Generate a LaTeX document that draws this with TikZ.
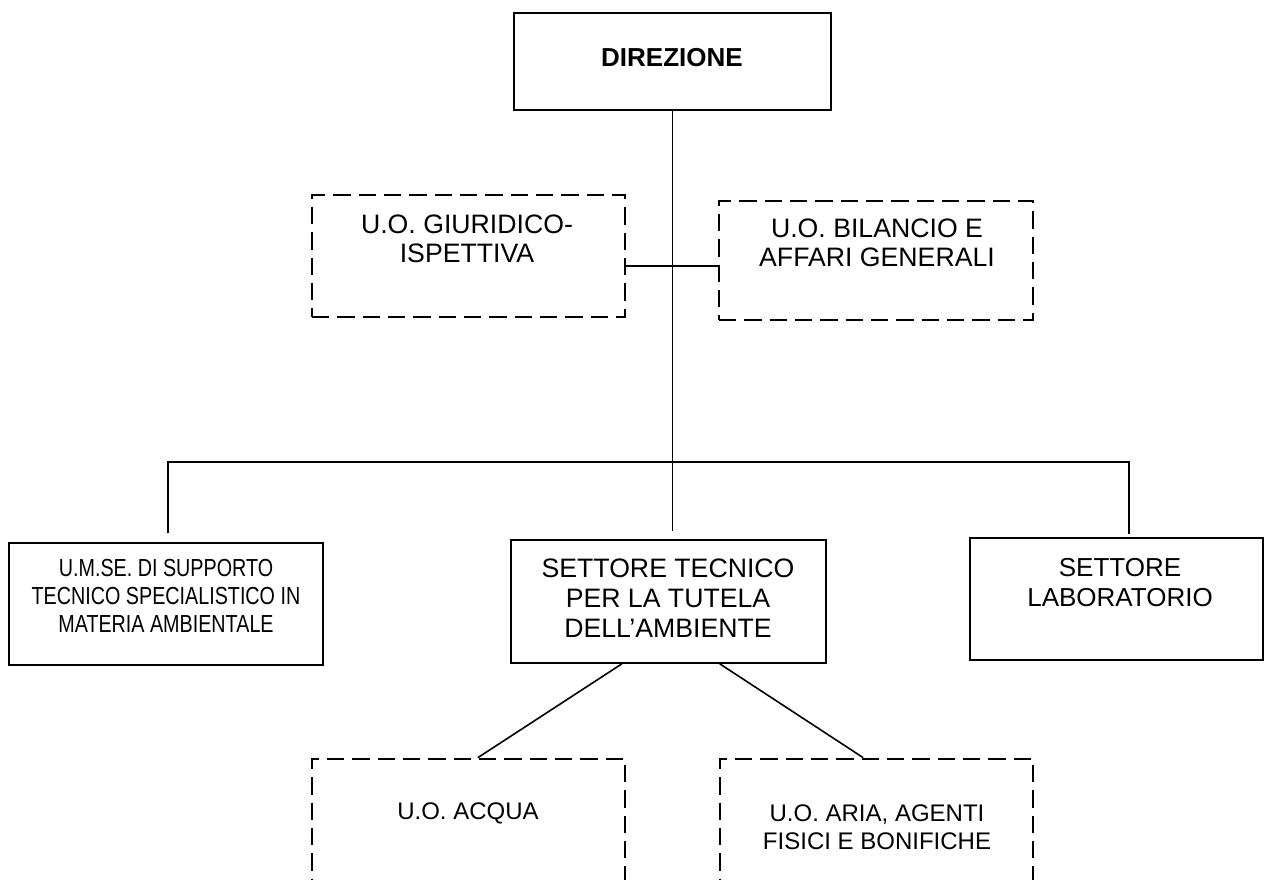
\documentclass[tikz,border=0pt]{standalone}
\usepackage{fontspec}
\setmainfont{Liberation Sans}
\newfontfamily\narrowfont[FakeStretch=0.8]{Liberation Sans}

\begin{document}
\begin{tikzpicture}[x=0.75pt, y=-0.75pt,
	solidbox/.style={draw, line width=1.3pt, inner sep=0pt},
	dashbox/.style={draw, line width=2pt, dash pattern=on 13pt off 6pt, inner sep=0pt},
	link/.style={line width=1.2pt},
	boxtext/.style={align=center, inner sep=0pt, font=\fontsize{18}{21}\selectfont}]

	\clip (0,0) rectangle (1272,880);

	% boxes
	\node[solidbox, minimum width=237.75pt, minimum height=72.75pt] (dir)   at (672.5,61.5)  {};
	\node[dashbox,  minimum width=234.75pt, minimum height=91.5pt]  (giur)  at (468.5,256)   {};
	\node[dashbox,  minimum width=235.5pt,  minimum height=89.25pt] (bil)   at (876,260.5)   {};
	\node[solidbox, minimum width=235.5pt,  minimum height=91.5pt]  (umse)  at (166,604)     {};
	\node[solidbox, minimum width=236.25pt, minimum height=92.25pt] (tec)   at (668.5,601.5) {};
	\node[solidbox, minimum width=219.75pt, minimum height=91.5pt]  (lab)   at (1116.5,599)  {};
	\node[dashbox,  minimum width=234.75pt, minimum height=105.75pt] (acq)  at (468.5,829.5) {};
	\node[dashbox,  minimum width=234.75pt, minimum height=105.75pt] (aria) at (876.5,829.5) {};

	% texts
	\node[boxtext, font=\bfseries\fontsize{19.5}{22}\selectfont] (dirtext) at (672,58) {DIREZIONE};
	\node[boxtext, font=\fontsize{20}{21.5}\selectfont] (giurtext) at (467,239) {U.O. GIURIDICO-\\ISPETTIVA};
	\node[boxtext, font=\fontsize{20}{22}\selectfont] (biltext) at (877,243) {U.O. BILANCIO E\\AFFARI GENERALI};
	\node[boxtext, font=\narrowfont\fontsize{18.5}{21}\selectfont] (umsetext) at (166,596)
		{U.M.SE. DI SUPPORTO\\TECNICO SPECIALISTICO IN\\MATERIA AMBIENTALE};
	\node[boxtext, font=\fontsize{20}{22.5}\selectfont] (tectext) at (668,598)
		{SETTORE TECNICO\\PER LA TUTELA\\DELL’AMBIENTE};
	\node[boxtext, font=\fontsize{19.5}{22}\selectfont] (labtext) at (1120,582.5) {SETTORE\\LABORATORIO};
	\node[boxtext] (acqtext)  at (468,813)   {U.O. ACQUA};
	\node[boxtext] (ariatext) at (877,827)   {U.O. ARIA, AGENTI\\FISICI E BONIFICHE};

	% connectors
	\coordinate (busL) at (168,462);
	\coordinate (busR) at (1129,462);
	\coordinate (side) at (673,266);

	\draw[link, shorten >=6pt] (dir.south) -- (dir.south |- tec.north);
	\draw[link, shorten <=6.5pt, shorten >=2.5pt] (busL |- umse.north) |- (busR) -- (busR |- lab.north);
	\draw[link] (side -| giur.east) -- (side -| bil.west);
	\draw[link] ([xshift=-35pt]tec.south) -- ([xshift=7pt]acq.north);
	\draw[link] ([xshift=38.5pt]tec.south) -- ([xshift=-10pt]aria.north);

\end{tikzpicture}
\end{document}
